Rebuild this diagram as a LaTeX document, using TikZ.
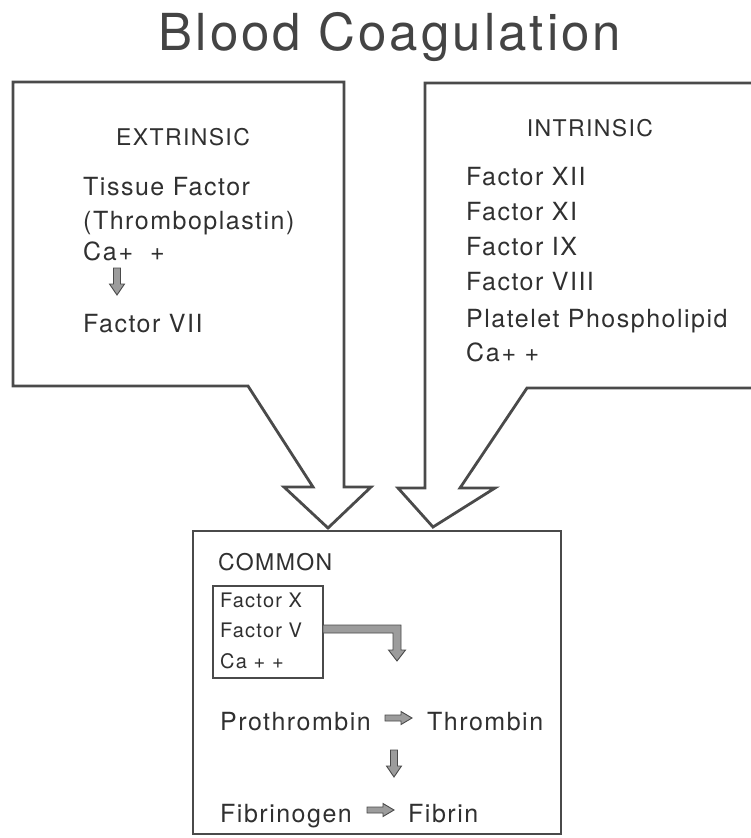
\documentclass[tikz,border=0pt]{standalone}
\usepackage{fontspec}
\setmainfont{TeX Gyre Heros}[LetterSpace=6]
\definecolor{ink}{HTML}{303030}
\definecolor{titleink}{HTML}{444444}
\definecolor{linec}{HTML}{4A4A4A}
\definecolor{arrowfill}{HTML}{9C9C9C}
\tikzset{
  outline/.style={draw=linec, line width=2.8pt, line join=miter},
  inbox/.style={draw=linec, line width=1.6pt},
  txt/.style={anchor=base west, inner sep=0pt, text=ink, font=\fontsize{25}{30}\selectfont},
  hdr/.style={anchor=base, inner sep=0pt, text=ink, font=\fontsize{23}{28}\selectfont},
  hdrw/.style={anchor=base west, inner sep=0pt, text=ink, font=\fontsize{23}{28}\selectfont},
  smalltxt/.style={anchor=base west, inner sep=0pt, text=ink, font=\fontsize{20}{24}\selectfont},
  blockarr/.style={draw=linec, fill=arrowfill, line width=0.9pt, line join=miter},
  pics/dnarrow/.style={code={
    \filldraw[blockarr] (-3.5,0) -- (3.5,0) -- (3.5,16) -- (7.5,16) -- (0,27) -- (-7.5,16) -- (-3.5,16) -- cycle;}},
  pics/rtarrow/.style={code={
    \filldraw[blockarr] (0,-3) -- (16,-3) -- (16,-6.5) -- (27,0) -- (16,6.5) -- (16,3) -- (0,3) -- cycle;}}
}
\begin{document}
\begin{tikzpicture}[x=1pt, y=-1pt]
\useasboundingbox[fill=white] (0,0) rectangle (751,838);

% Title
\node[anchor=base, inner sep=0pt, text=titleink, font=\fontsize{51}{60}\selectfont] (title) at (390,50) {Blood Coagulation};

% Extrinsic callout box
\draw[outline] (13,82) -- (344,82) -- (344,487) -- (371,487) -- (328,528) -- (284,487)
  -- (313,487) -- (248,386) -- (13,386) -- cycle;
% Intrinsic callout box (runs off the right edge)
\draw[outline] (753,388) -- (527,388) -- (460,488) -- (495,488) -- (433,527) -- (398,488)
  -- (425,488) -- (425,83) -- (753,83);
% Common box
\draw[outline] (193,531) rectangle (561,834);

% Extrinsic texts
\node[hdr] (ext) at (183,145) {EXTRINSIC};
\node[txt] (tf) at (83,195) {Tissue Factor};
\node[txt] (tp) at (83,229) {(Thromboplastin)};
\node[txt] (ca1) at (83,260) {Ca\kern2pt+\ \ +};
\pic (a1) at (117,268) {dnarrow};
\node[txt] (f7) at (83,332) {Factor VII};

% Intrinsic texts
\node[hdr] (int) at (590,136) {INTRINSIC};
\node[txt] (f12) at (466,185) {Factor XII};
\node[txt] (f11) at (466,220) {Factor XI};
\node[txt] (f9) at (466,255) {Factor IX};
\node[txt] (f8) at (466,290) {Factor VIII};
\node[txt] (pp) at (466,327) {Platelet Phospholipid};
\node[txt] (ca2) at (466,361) {Ca\kern2pt+ +};

% Common texts
\node[hdrw] (com) at (218,570) {COMMON};
\draw[inbox] (213,586) rectangle (323,678);
\node[smalltxt] (f10) at (220,607) {Factor X};
\node[smalltxt] (f5) at (220,637) {Factor V};
\node[smalltxt] (ca3) at (220,668) {Ca + +};
\coordinate (elb) at (323,629);
\filldraw[blockarr] ([yshift=4pt]elb) -- (401,625) -- (401,650) -- (405.5,650) -- (397,661)
  -- (388.5,650) -- (393,650) -- (393,633) -- ([yshift=-4pt]elb) -- cycle;

\node[txt] (pro) at (220,730) {Prothrombin};
\pic (a2) at (385,718) {rtarrow};
\node[txt] (thr) at (427,730) {Thrombin};
\pic (a3) at (394,750) {dnarrow};
\node[txt] (fgn) at (220,822) {Fibrinogen};
\pic (a4) at (367,810) {rtarrow};
\node[txt] (fbn) at (408,822) {Fibrin};
\end{tikzpicture}
\end{document}
